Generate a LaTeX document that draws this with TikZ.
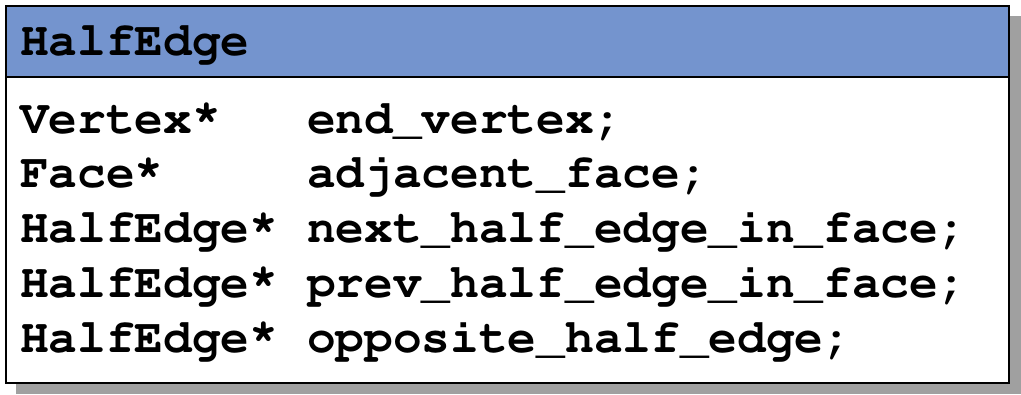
\documentclass[tikz,border=0pt]{standalone}
\usepackage[T1]{fontenc}
\renewcommand{\ttdefault}{pcr}
\definecolor{headerblue}{RGB}{116,148,206}
\definecolor{shadowgray}{RGB}{160,160,160}
% pointer star, set high as in Courier New
\newcommand{\ptr}{\raisebox{0.16em}{*}}
\begin{document}
\begin{tikzpicture}[x=1pt,y=-1pt,
  code/.style={anchor=base west,inner sep=0pt,font=\fontsize{47.8}{50}\selectfont\ttfamily\bfseries},
  frame/.style={line width=2.5pt}]
  \useasboundingbox (0,0) rectangle (1021,394);

	% Shadow
	\fill[shadowgray] (16,16) rectangle (1021,394);

	% Class box
	\fill[white] (6,6) rectangle (1009,383);
	\fill[headerblue] (6,6) rectangle (1009,77);
	\draw[frame] (6,77) -- (1009,77);
	\draw[frame] (6,6) rectangle (1009,383);

	% Title
	\node[code] (title) at (20,55) {HalfEdge};

	% Members
	\foreach \t/\n [count=\i] in {Vertex\ptr/end\_vertex;,Face\ptr/adjacent\_face;,HalfEdge\ptr/next\_half\_edge\_in\_face;,HalfEdge\ptr/prev\_half\_edge\_in\_face;,HalfEdge\ptr/opposite\_half\_edge;}
	  {
	    \node[code] (type\i) at (20,{133+54.75*(\i-1)}) {\t};
	    \node[code] (name\i) at (307,{133+54.75*(\i-1)}) {\n};
	  }
\end{tikzpicture}
\end{document}
